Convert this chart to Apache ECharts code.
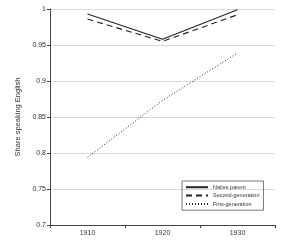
<!DOCTYPE html>
<html><head><meta charset="utf-8">
<script src="https://cdn.jsdelivr.net/npm/echarts@6/dist/echarts.min.js"></script>
<style>html,body{margin:0;padding:0;background:#fff}#c{width:300px;height:244px}</style>
</head><body><div id="c"></div>
<script>
var years = ['1910', '1920', '1930'];
var nativeParent = [0.993, 0.958, 0.999];
var secondGen = [0.986, 0.955, 0.992];
var firstGen = [0.794, 0.873, 0.939];

var chart = echarts.init(document.getElementById('c'));
var ink = '#222';
chart.setOption({
  animation: false,
  backgroundColor: '#fff',
  grid: {left: 50, right: 25, top: 9, bottom: 19},
  legend: {
    left: 182, top: 181, orient: 'vertical',
    itemWidth: 22, itemHeight: 8, itemGap: 2,
    borderColor: '#555', borderWidth: 0.8, borderRadius: 0,
    padding: [3, 4, 3, 3],
    itemStyle: {opacity: 0},
    textStyle: {fontSize: 5.5, color: '#333', fontFamily: 'Liberation Sans'},
    data: ['Native parent', 'Second-generation', 'First-generation']
  },
  xAxis: {
    type: 'category', data: years, boundaryGap: true,
    axisLine: {lineStyle: {color: '#444', width: 1}},
    axisTick: {show: true, length: 3, lineStyle: {color: '#444'}},
    axisLabel: {fontSize: 7, color: '#333', margin: 5, fontFamily: 'Liberation Sans'},
    splitLine: {show: false}
  },
  yAxis: {
    type: 'value', min: 0.7, max: 1, interval: 0.05,
    name: 'Share speaking English', nameLocation: 'middle', nameGap: 26,
    nameTextStyle: {fontSize: 7.5, color: '#333', fontFamily: 'Liberation Sans'},
    axisLine: {show: true, lineStyle: {color: '#444', width: 1}},
    axisTick: {show: true, length: 3, lineStyle: {color: '#444'}},
    axisLabel: {fontSize: 7, color: '#333', margin: 4, fontFamily: 'Liberation Sans',
      formatter: function(v){ return String(Math.round(v*100)/100); }},
    splitLine: {show: true, lineStyle: {color: '#d8d8d8', width: 1}}
  },
  series: [
    {name: 'Native parent', type: 'line', data: nativeParent, symbol: 'none',
      lineStyle: {color: ink, width: 1.1, type: 'solid'}, itemStyle: {color: ink}},
    {name: 'Second-generation', type: 'line', data: secondGen, symbol: 'none',
      lineStyle: {color: ink, width: 1.1, type: [6, 4]}, itemStyle: {color: ink}},
    {name: 'First-generation', type: 'line', data: firstGen, symbol: 'none',
      lineStyle: {color: ink, width: 1, type: [1, 2]}, itemStyle: {color: ink}}
  ]
});
</script></body></html>
